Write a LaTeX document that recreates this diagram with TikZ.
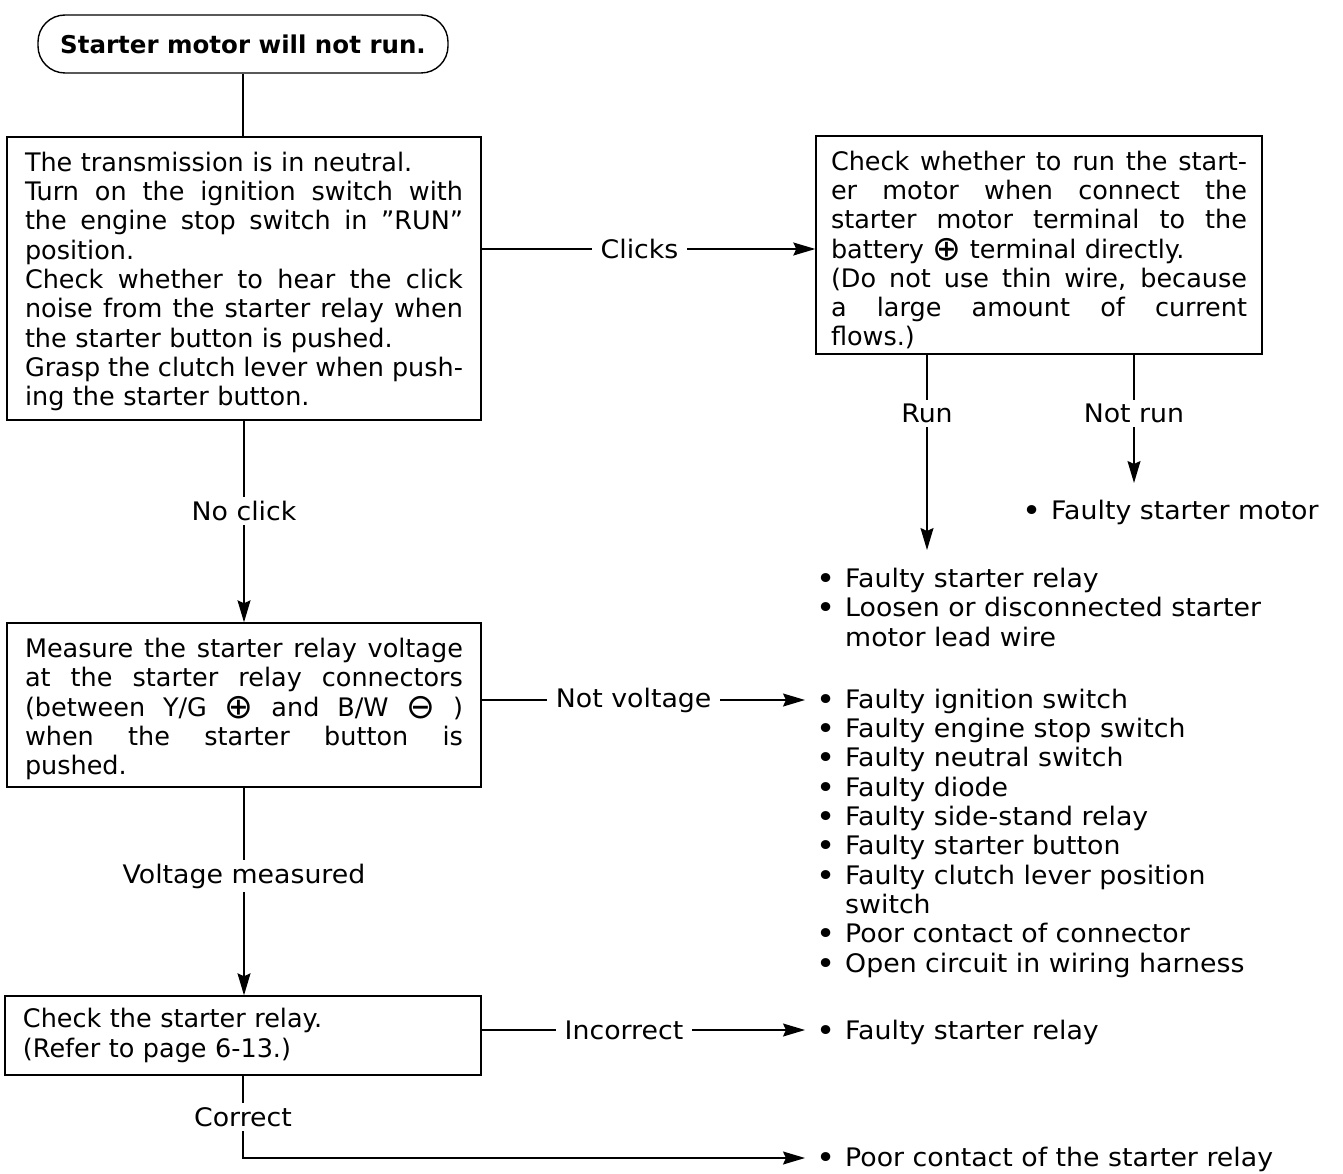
\documentclass[tikz,border=0pt]{standalone}
\usepackage{fontspec}
\setmainfont{DejaVu Sans}
\newfontfamily\widefont{DejaVu Sans}[FakeStretch=1.05]
\usetikzlibrary{arrows.meta,calc}
\newcommand\jl[2][438pt]{{\spaceskip=0pt\xspaceskip=0pt\makebox[#1][s]{#2}}}
\newcommand\bul{\makebox[28pt][l]{\textbf{\textbullet}}}
\newcommand\cplus{\raisebox{-2pt}{\scalebox{1.35}{⊕}}}
\newcommand\cminus{\raisebox{-2pt}{\scalebox{1.35}{⊖}}}
\newcommand\topstrut[1]{\rule{0pt}{#1}}
\begin{document}
\begin{tikzpicture}[x=1pt,y=-1pt,
  txt/.style={font=\fontsize{25.5}{29.3}\selectfont},
  wtxt/.style={font=\widefont\fontsize{25.5}{29.3}\selectfont},
  box/.style={draw,line width=1.4pt,txt,align=left,inner ysep=0pt},
  lbl/.style={wtxt,fill=white,inner xsep=9pt,inner ysep=4pt},
  lst/.style={wtxt,align=left,inner sep=0pt,anchor=base west},
  conn/.style={line width=1.4pt},
  arr/.style={conn,-{Stealth[length=22pt,width=13pt,inset=3pt]}},
]
\fill[white] (0,0) rectangle (1343,1174);
\useasboundingbox (0,0) rectangle (1343,1174);

\node[draw,line width=1.4pt,rounded corners=27pt,minimum width=410pt,minimum height=58pt,
  font=\bfseries\fontsize{24.5}{29}\selectfont] (start) at (243,44) {Starter motor will not run.};

\node[box,text width=438pt,inner xsep=18pt,minimum height=283pt] (b1) at (244,278.5)
 {\topstrut{25.5pt}The transmission is in neutral.\\
  \jl{Turn on the ignition switch with}\\
  \jl{the engine stop switch in ''RUN''}\\
  position.\\
  \jl{Check whether to hear the click}\\
  \jl{noise from the starter relay when}\\
  the starter button is pushed.\\
  \jl{Grasp the clutch lever when push-}\\
  ing the starter button.};

\node[box,text width=416pt,inner xsep=15pt,minimum height=218pt] (b2) at (1039,245)
 {\jl[416pt]{\topstrut{29.5pt}Check whether to run the start-}\\
  \jl[416pt]{er motor when connect the}\\
  \jl[416pt]{starter motor terminal to the}\\
  battery \cplus\ terminal directly.\\
  \jl[416pt]{(Do not use thin wire, because}\\
  \jl[416pt]{a large amount of current}\\
  flows.)};

\node[box,text width=438pt,inner xsep=18pt,minimum height=164pt] (b3) at (244,705)
 {\jl{\topstrut{27.5pt}Measure the starter relay voltage}\\
  \jl{at the starter relay connectors}\\
  \jl{(between Y/G \cplus\ and B/W \cminus\ )}\\
  \jl{when the starter button is}\\
  pushed.};

\node[box,text width=440pt,inner xsep=18pt,minimum height=79pt] (b4) at (243,1035.5)
 {Check the starter relay.\\
  (Refer to page 6-13.)};

% multi-line list nodes: base anchor is the last line's baseline
\node[lst] (nrlist) at (1023,519) {\bul Faulty starter motor};
\node[lst] (runlist) at (817,646) {\bul Faulty starter relay\\
  \bul Loosen or disconnected starter\\
  \hspace*{28pt}motor lead wire};
\node[lst] (nvlist) at (817,972) {\bul Faulty ignition switch\\
  \bul Faulty engine stop switch\\
  \bul Faulty neutral switch\\
  \bul Faulty diode\\
  \bul Faulty side-stand relay\\
  \bul Faulty starter button\\
  \bul Faulty clutch lever position\\
  \hspace*{28pt}switch\\
  \bul Poor contact of connector\\
  \bul Open circuit in wiring harness};
\node[lst] (inclist) at (817,1039) {\bul Faulty starter relay};
\node[lst] (corlist) at (817,1166) {\bul Poor contact of the starter relay};

\coordinate (clk) at ([yshift=-4pt]b2.west);
\coordinate (nvend) at (805,700);
\coordinate (incend) at (805,1030);
\coordinate (corend) at (805,1158);
\coordinate (runend) at (927,550);
\coordinate (nrend) at (1134,483);

\draw[conn] (start.south) -- (start.south |- b1.north);
\draw[arr] (b1.east |- clk) -- node[lbl,pos=0.473]{Clicks} (clk);
\draw[arr] (b1.south) -- node[lbl,pos=0.448]{No click} (b3.north);
\draw[arr] (b3.south) -- node[lbl,pos=0.426]{Voltage measured} (b3.south |- b4.north);
\draw[arr] (b3.east |- nvend) -- node[lbl,pos=0.47]{Not voltage} (nvend);
\draw[arr] (b4.east |- incend) -- node[lbl,pos=0.44]{Incorrect} (incend);
\draw[arr] (b4.south) |- node[lbl,pos=0.25]{Correct} (corend);
\draw[arr] (b2.south -| runend) -- node[lbl,pos=0.3]{Run} (runend);
\draw[arr] (b2.south -| nrend) -- node[lbl,pos=0.457]{Not run} (nrend);
\end{tikzpicture}
\end{document}
